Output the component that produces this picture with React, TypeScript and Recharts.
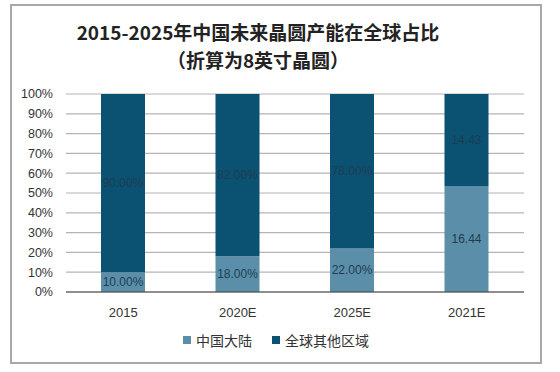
import { BarChart, Bar, XAxis, YAxis, CartesianGrid, LabelList } from 'recharts';

const categories = ['2015', '2020E', '2025E', '2021E'];
const chinaMainland = [10, 18, 22, 16.44];
const restOfWorld = [90, 82, 78, 14.43];
const labelUnits = ['%', '%', '%', ''];
const yTicks = [0, 0.1, 0.2, 0.3, 0.4, 0.5, 0.6, 0.7, 0.8, 0.9, 1];

const seriesColors = {
  china: '#5b8fa9',
  world: '#0b5172'
};

const data = categories.map((name, i) => ({
  name,
  china: chinaMainland[i],
  world: restOfWorld[i],
  unit: labelUnits[i]
}));

const fmtLabel = (unitKey: string) => (props: any) => {
  const { x, y, width, height, value, index } = props;
  const unit = data[index]?.unit ?? '';
  return (
    <text
      x={x + width / 2}
      y={y + height / 2}
      textAnchor="middle"
      dominantBaseline="central"
      fill="#1e3d52"
      fontSize={12}
      fontFamily="'Liberation Sans', Arial, sans-serif"
      key={unitKey + index}
    >
      {Number(value).toFixed(2) + unit}
    </text>
  );
};

export default function App() {
  const font = "'Noto Sans CJK SC', 'Noto Sans', sans-serif";
  return (
    <div style={{ position: 'absolute', left: 0, top: 0, width: 560, height: 372, background: '#fff' }}>
      <div
        style={{
          position: 'absolute',
          left: 10,
          top: 4,
          width: 528,
          height: 356,
          border: '2px solid #a8a8a8'
        }}
      />
      <div
        style={{
          position: 'absolute',
          left: 0,
          top: 18,
          width: 516,
          textAlign: 'center',
          fontFamily: font,
          fontWeight: 700,
          fontSize: 19,
          lineHeight: '28px',
          color: '#222'
        }}
      >
        <div>2015-2025年中国未来晶圆产能在全球占比</div>
        <div>（折算为8英寸晶圆）</div>
      </div>
      <div style={{ position: 'absolute', left: 0, top: 0 }}>
        <BarChart
          width={560}
          height={372}
          data={data}
          stackOffset="expand"
          margin={{ top: 94, right: 36, bottom: 50, left: 10 }}
          barSize={44}
        >
          <CartesianGrid vertical={false} stroke="#b4b4b4" strokeWidth={1.2} />
          <XAxis
            dataKey="name"
            height={30}
            tickLine={false}
            axisLine={{ stroke: '#444', strokeWidth: 1.2 }}
            tick={{ fill: '#333', fontSize: 13, fontFamily: "'Liberation Sans', Arial, sans-serif" }}
            tickMargin={10}
          />
          <YAxis
            width={56}
            domain={[0, 1]}
            ticks={yTicks}
            interval={0}
            tickFormatter={(v: number) => `${Math.round(v * 100)}%`}
            axisLine={false}
            tickLine={false}
            tickSize={6}
            tickMargin={7}
            tick={{ fill: '#333', fontSize: 12.5, fontFamily: "'Liberation Sans', Arial, sans-serif" }}
          />
          <Bar dataKey="china" stackId="a" fill={seriesColors.china} isAnimationActive={false}>
            <LabelList dataKey="china" content={fmtLabel('c')} />
          </Bar>
          <Bar dataKey="world" stackId="a" fill={seriesColors.world} isAnimationActive={false}>
            <LabelList dataKey="world" content={fmtLabel('w')} />
          </Bar>
        </BarChart>
      </div>
      <div
        style={{
          position: 'absolute',
          left: 0,
          top: 330,
          width: 552,
          display: 'flex',
          justifyContent: 'center',
          alignItems: 'center',
          fontFamily: font,
          fontSize: 14,
          color: '#333'
        }}
      >
        <span style={{ display: 'inline-block', width: 8, height: 8, background: seriesColors.china, marginRight: 5 }} />
        <span style={{ marginRight: 20 }}>中国大陆</span>
        <span style={{ display: 'inline-block', width: 8, height: 8, background: seriesColors.world, marginRight: 5 }} />
        <span>全球其他区域</span>
      </div>
    </div>
  );
}
